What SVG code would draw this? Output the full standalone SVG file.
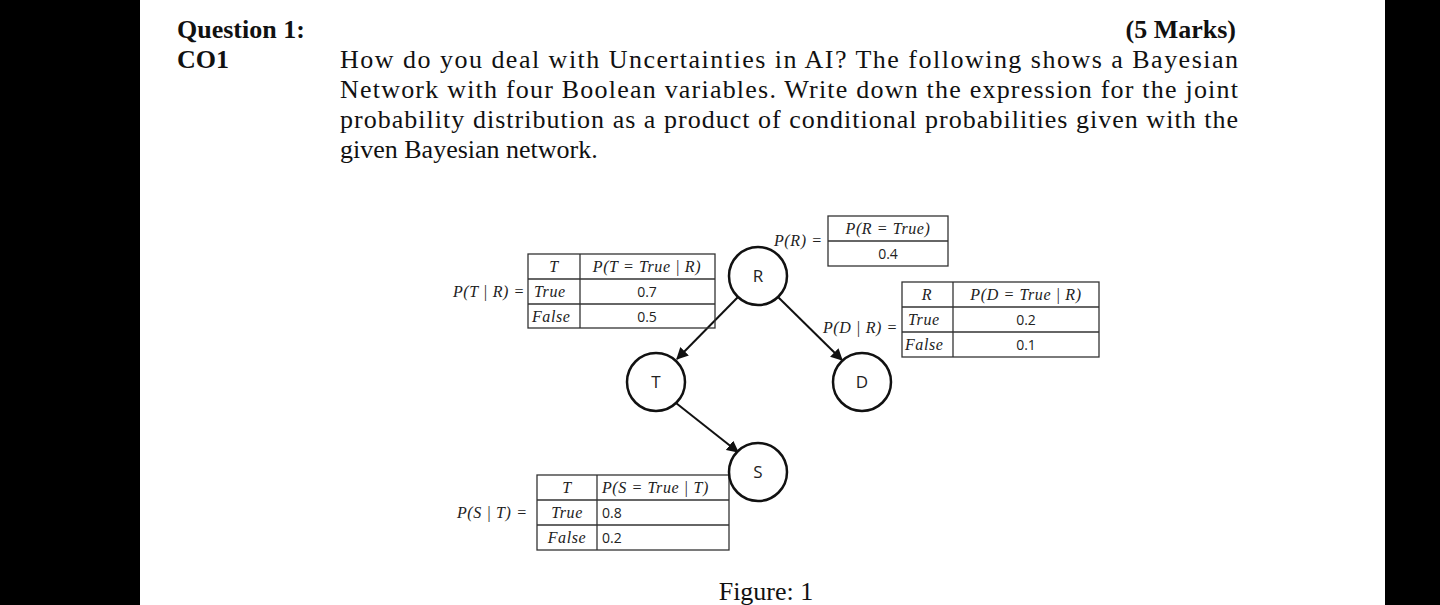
<svg xmlns="http://www.w3.org/2000/svg" width="1440" height="605" viewBox="0 0 1440 605">
<style>
.s{font-family:"Liberation Serif",serif;fill:#111}
.b{font-weight:bold;font-size:26px}
.p{font-size:26px}
.i{font-family:"Liberation Serif",serif;font-style:italic;font-size:16px;letter-spacing:0.6px;fill:#222}
.n{font-family:"Open Sans","Liberation Sans",sans-serif;font-size:14px;fill:#222}
.L{font-size:17px}
.c{text-anchor:middle}
.t{fill:none;stroke:#333;stroke-width:1.3}
.nd{fill:#fff;stroke:#111;stroke-width:2.5}
.e{stroke:#111;stroke-width:2;marker-end:url(#a)}
</style>
<defs><marker id="a" viewBox="0 0 10 10" refX="9" refY="5" markerWidth="6" markerHeight="6" orient="auto"><path d="M0,0L10,5L0,10z" fill="#111"/></marker></defs>
<rect width="1440" height="605" fill="#000"/>
<rect x="140" y="0" width="1245" height="605" fill="#fff"/>
<text class="s b" x="177" y="38">Question 1:</text>
<text class="s b" x="177" y="68">CO1</text>
<text class="s b" x="1236" y="38" text-anchor="end">(5 Marks)</text>
<text class="s p" x="340" y="68" textLength="898" lengthAdjust="spacing">How do you deal with Uncertainties in AI? The following shows a Bayesian</text>
<text class="s p" x="340" y="98" textLength="898" lengthAdjust="spacing">Network with four Boolean variables. Write down the expression for the joint</text>
<text class="s p" x="340" y="128" textLength="898" lengthAdjust="spacing">probability distribution as a product of conditional probabilities given with the</text>
<text class="s p" x="340" y="158">given Bayesian network.</text>
<g id="connectors">
<line class="e" x1="738" y1="297" x2="677" y2="359"/>
<line class="e" x1="778" y1="297" x2="842" y2="360"/>
<line class="e" x1="676" y1="403" x2="738" y2="452"/>
</g>
<g id="tableTR">
<rect class="t" x="528" y="254" width="187" height="74"/>
<line class="t" x1="528" y1="279" x2="715" y2="279"/><line class="t" x1="528" y1="304" x2="715" y2="304"/><line class="t" x1="580" y1="254" x2="580" y2="328"/>
<text class="i c" x="554" y="272">T</text><text class="i c" x="647" y="272">P(T = True | R)</text>
<text class="i" x="534" y="297">True</text><text class="n c" x="647" y="297">0.7</text>
<text class="i" x="532" y="322">False</text><text class="n c" x="647" y="322">0.5</text>
<text class="i" x="453" y="297">P(T | R) =</text>
</g>
<g id="tableR">
<rect class="t" x="828" y="216" width="120" height="50"/>
<line class="t" x1="828" y1="241" x2="948" y2="241"/>
<text class="i c" x="888" y="234">P(R = True)</text><text class="n c" x="888" y="259">0.4</text>
<text class="i" x="774" y="246">P(R) =</text>
</g>
<g id="tableDR">
<rect class="t" x="902" y="282" width="197" height="75"/>
<line class="t" x1="902" y1="307" x2="1099" y2="307"/><line class="t" x1="902" y1="332" x2="1099" y2="332"/><line class="t" x1="953" y1="282" x2="953" y2="357"/>
<text class="i c" x="927" y="300">R</text><text class="i c" x="1026" y="300">P(D = True | R)</text>
<text class="i" x="908" y="325">True</text><text class="n c" x="1026" y="325">0.2</text>
<text class="i" x="905" y="350">False</text><text class="n c" x="1026" y="350">0.1</text>
<text class="i" x="823" y="333">P(D | R) =</text>
</g>
<g id="tableST">
<rect class="t" x="537" y="475" width="192" height="75"/>
<line class="t" x1="537" y1="500" x2="729" y2="500"/><line class="t" x1="537" y1="525" x2="729" y2="525"/><line class="t" x1="597" y1="475" x2="597" y2="550"/>
<text class="i c" x="567" y="493">T</text><text class="i" x="602" y="493">P(S = True | T)</text>
<text class="i c" x="567" y="518">True</text><text class="n" x="602" y="518">0.8</text>
<text class="i c" x="567" y="543">False</text><text class="n" x="602" y="543">0.2</text>
<text class="i" x="457" y="518">P(S | T) =</text>
</g>
<g id="nodeR"><circle class="nd" cx="758" cy="276" r="29"/><text class="n c L" x="758" y="282">R</text></g>
<g id="nodeT"><circle class="nd" cx="656" cy="382" r="29"/><text class="n c L" x="656" y="388">T</text></g>
<g id="nodeD"><circle class="nd" cx="862" cy="382" r="29"/><text class="n c L" x="862" y="388">D</text></g>
<g id="nodeS"><circle class="nd" cx="758" cy="472" r="29"/><text class="n c L" x="758" y="478">S</text></g>
<text class="s p c" x="766" y="600">Figure: 1</text>
</svg>
